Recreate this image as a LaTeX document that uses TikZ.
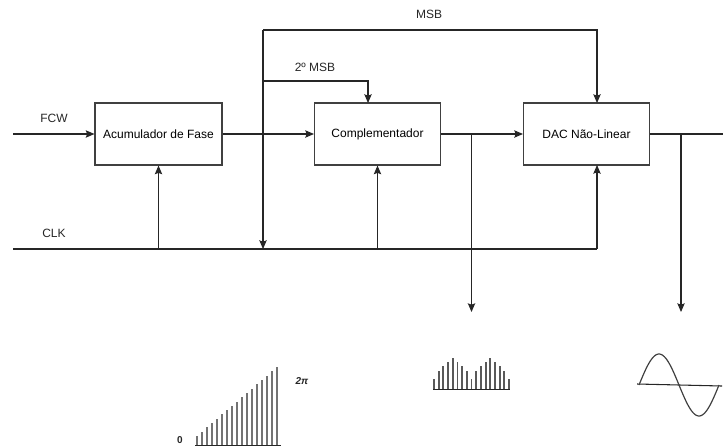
\documentclass[tikz,border=0pt]{standalone}
\usepackage{fontspec}
\setmainfont{Liberation Sans}
\usetikzlibrary{arrows.meta,calc}
\begin{document}
\begin{tikzpicture}[x=0.75pt,y=-0.75pt,
  blk/.style={draw=black!75,line width=0.8pt,minimum width=94.5pt,minimum height=46.5pt,inner sep=0pt,font=\fontsize{9}{11}\selectfont},
  wire/.style={draw=black!85,line width=0.8pt},
  arr/.style={wire,-{Stealth[length=6.5pt,width=5.5pt,inset=1pt]}},
  lbl/.style={font=\fontsize{9}{11}\selectfont,text=black!85},
  bar/.style={draw=black!55,line width=1.5pt},
  darkbar/.style={draw=black!65,line width=1.4pt},
  base/.style={draw=black!85,line width=0.8pt}]
\useasboundingbox (0,0) rectangle (723,447);
% blocks
\node[blk,minimum width=95.25pt] (acc) at (158.5,134) {Acumulador de Fase};
\node[blk] (comp) at (377.5,134) {Complementador};
\node[blk] (dac) at (586.5,134) {DAC Não-Linear};
% coordinates
\coordinate (fcw) at (13,134);
\coordinate (clk) at (13,249);
\coordinate (clkend) at (597,249);
\coordinate (dacclk) at (597,165);
\coordinate (dacmsb) at (597,103);
\coordinate (msbA) at (263,249);
\coordinate (msbB) at (263,30);
\coordinate (msbC) at (597,30);
\coordinate (smsbA) at (263,81);
\coordinate (smsbB) at (368,81);
\coordinate (smsbC) at (368,103);
\coordinate (br1) at (471.5,134);
\coordinate (br1e) at (471.5,312);
\coordinate (br2) at (681,134);
\coordinate (br2e) at (681,312);
\coordinate (out) at (723,134);
\coordinate (c1) at (158.5,249);
\coordinate (c2) at (377.5,249);
% main chain
\draw[arr] (fcw) -- (acc.west);
\draw[arr] (acc.east) -- (comp.west);
\draw[arr] (comp.east) -- (dac.west);
\draw[wire] (dac.east) -- (out);
\draw[arr] (br1) -- (br1e);
\draw[arr] (br2) -- (br2e);
% clock
\draw[wire] (clk) -- (clkend);
\draw[arr] (clkend) -- (dacclk);
\draw[arr] (c1) -- (acc.south);
\draw[arr] (c2) -- (comp.south);
% MSB
\draw[arr] (msbB) -- (msbA);
\draw[arr] (msbB) -- (msbC) -- (dacmsb);
\draw[arr] (smsbA) -- (smsbB) -- (smsbC);
% labels
\node[lbl] (lfcw) at (54,118) {FCW};
\node[lbl] (lclk) at (54,233) {CLK};
\node[lbl] (lmsb) at (429,14) {MSB};
\node[lbl] (lsmsb) at (315,67) {2º MSB};
% ramp
\draw[base] (195,445.5) -- (281,445.5);
\foreach \i in {0,...,16} {
  \draw[bar] ({196.5+\i*5.06},445) -- ({196.5+\i*5.06},{436-\i*69/16});
}
\node[font=\fontsize{7.5}{9}\selectfont\bfseries,text=black!85] (l0) at (180,440) {0};
\node[font=\fontsize{7.5}{9}\selectfont\bfseries\itshape,text=black!85] (l2pi) at (302,381) {2π};
% rectified bars
\draw[base] (433,389.5) -- (510,389.5);
\foreach [count=\i from 0] \h in {10,18.3,23.3,27,30.7,27,23.3,18.3,10,18.3,23.3,27,30.7,27,23.3,18.3,10} {
  \draw[darkbar] ({434+\i*4.69},389) -- ({434+\i*4.69},{389-\h});
}
% sine
\draw[draw=black!85,line width=0.8pt] (637,384) -- (722,386);
\draw[draw=black!75,line width=0.9pt] plot[domain=0:80,samples=80,smooth] ({639+\x},{385-31*sin(\x*4.5)});
\end{tikzpicture}
\end{document}
